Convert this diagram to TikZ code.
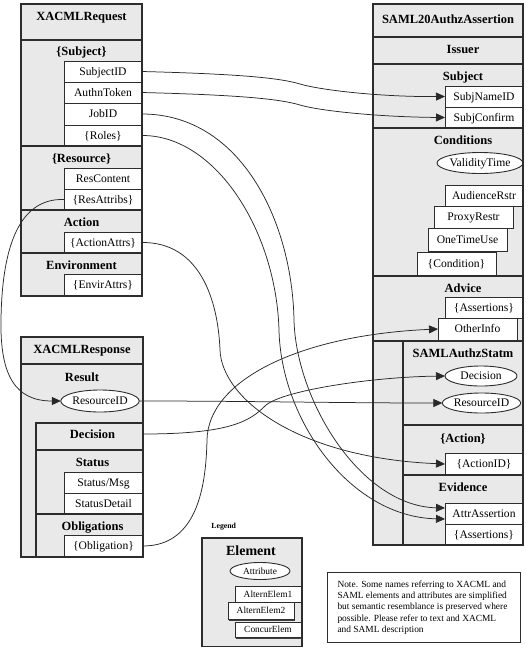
\documentclass[tikz,border=0pt]{standalone}
\usepackage{fontspec}
\setmainfont{Liberation Serif}
\usetikzlibrary{arrows.meta,shapes.geometric,shadows}
\definecolor{secgray}{RGB}{233,233,233}
\definecolor{edge}{RGB}{45,45,45}
\definecolor{wirec}{RGB}{40,40,40}
\begin{document}
\begin{tikzpicture}[x=1pt,y=-1pt,
  wh/.style 2 args={minimum width=#1pt, minimum height=#2pt},
  sec/.style={draw=edge, line width=1.1pt, fill=secgray, anchor=north west, inner sep=0pt, outer sep=0pt},
  item/.style={draw=edge, line width=0.8pt, fill=white, anchor=north west, inner sep=0pt, outer sep=0pt,
    font=\fontsize{11.6}{12}\selectfont, text height=7.7pt, text depth=0pt},
  sitem/.style={item, drop shadow={shadow xshift=1.2pt, shadow yshift=-1.2pt, fill=black!75, opacity=1}},
  litem/.style={item, font=\fontsize{9.4}{10}\selectfont, text height=6.2pt,
    drop shadow={shadow xshift=1pt, shadow yshift=-1pt, fill=black!75, opacity=1}},
  hd/.style={font=\bfseries\fontsize{12.5}{13}\selectfont, inner sep=0pt, text height=8.45pt, text depth=0pt},
  oval/.style={ellipse, draw=edge, line width=0.9pt, fill=white, inner sep=0pt, outer sep=0pt,
    font=\fontsize{11.6}{12}\selectfont, text height=7.7pt, text depth=0pt},
  frame/.style={draw=edge, line width=1.3pt},
  wire/.style={draw=wirec, line width=0.75pt},
  arr/.style={wire, -{Triangle[length=9pt,width=8pt]}},
]
\useasboundingbox (0,0) rectangle (526,659);

% ---------------- XACMLRequest ----------------
\node[sec, wh={121}{292}] (req) at (21,4) {};
\node[hd] (reqt) at (81.5,16) {XACMLRequest};
\node[sec, wh={121}{106}] (subjsec) at (21,40) {};
\node[hd] (subjh) at (81.5,51.7) {\{Subject\}};
\node[item, wh={78}{21}] (subjid) at (64,61) {SubjectID};
\node[item, wh={78}{21}] (authn) at (64,82) {AuthnToken};
\node[item, wh={78}{22}] (jobid) at (64,103) {JobID};
\node[item, wh={78}{21}] (roles) at (64,125) {\{Roles\}};
\node[sec, wh={121}{64}] (ressec) at (21,146) {};
\node[hd] (resh) at (81.5,158) {\{Resource\}};
\node[item, wh={78}{21}] (rescont) at (64,168) {ResContent};
\node[item, wh={78}{21}] (resattr) at (64,189) {\{ResAttribs\}};
\node[sec, wh={121}{43}] (actsec) at (21,210) {};
\node[hd] (acth) at (81.5,222) {Action};
\node[item, wh={78}{21}] (actattr) at (64,232) {\{ActionAttrs\}};
\node[sec, wh={121}{43}] (envsec) at (21,253) {};
\node[hd] (envh) at (81.5,265) {Environment};
\node[item, wh={78}{22}] (envattr) at (64,274) {\{EnvirAttrs\}};
\draw[frame] (req.north west) rectangle (req.south east);

% ---------------- XACMLResponse ----------------
\node[sec, wh={122}{220}] (resp) at (21,337) {};
\node[hd] (respt) at (82,349) {XACMLResponse};
\node[sec, wh={122}{193}] (ressec2) at (21,364) {};
\node[hd] (resulth) at (82,377.5) {Result};
\node[oval, wh={73}{22}] (rid) at (100,401) {ResourceID};
\node[sec, wh={107}{27}] (decsec) at (36,423) {};
\node[hd] (dech) at (92.5,434) {Decision};
\node[sec, wh={107}{64}] (statsec) at (36,450) {};
\node[hd] (stath) at (92.5,462.5) {Status};
\node[item, wh={79}{21}] (stmsg) at (64,472) {Status/Msg};
\node[item, wh={79}{21}] (stdet) at (64,493) {StatusDetail};
\node[sec, wh={107}{43}] (oblsec) at (36,514) {};
\node[hd] (oblh) at (92.5,526) {Obligations};
\node[item, wh={79}{22}] (oblig) at (64,535) {\{Obligation\}};
\draw[frame] (resp.north west) rectangle (resp.south east);

% ---------------- SAML20AuthzAssertion ----------------
\node[sec, wh={150}{541}] (saml) at (373,4) {};
\node[hd] (samlt) at (448,19) {SAML20AuthzAssertion};
\node[sec, wh={150}{27}] (issec) at (373,37) {};
\node[hd] (ish) at (463,49.5) {Issuer};
\node[sec, wh={150}{64}] (ssubjsec) at (373,64) {};
\node[hd] (ssubjh) at (463,76) {Subject};
\node[item, wh={78}{21}] (subjname) at (445,86) {SubjNameID};
\node[item, wh={78}{21}] (subjconf) at (445,107) {SubjConfirm};
\node[sec, wh={150}{148}] (condsec) at (373,128) {};
\node[hd] (condh) at (463,140) {Conditions};
\node[oval, wh={86}{21}] (valid) at (480,163) {ValidityTime};
\node[sitem, wh={78}{21}] (aud) at (445,185) {AudienceRstr};
\node[sitem, wh={79}{22}] (proxy) at (434,206) {ProxyRestr};
\node[sitem, wh={79}{23}] (onetime) at (428,228) {OneTimeUse};
\node[sitem, wh={79}{24}] (condition) at (417,252) {\{Condition\}};
\node[sec, wh={150}{65}] (advsec) at (373,276) {};
\node[hd] (advh) at (463,288.5) {Advice};
\node[item, wh={78}{21}] (sassert1) at (445,297) {\{Assertions\}};
\node[sitem, wh={79}{22}] (other) at (438,318) {OtherInfo};
\node[sec, wh={150}{204}] (stmsec) at (373,341) {};
\node[sec, wh={120}{84}] (stminsec) at (403,341) {};
\node[hd] (stmh) at (463,353.7) {SAMLAuthzStatm};
\node[oval, wh={72}{20}] (sdec) at (481,376) {Decision};
\node[oval, wh={73}{20}] (srid) at (481.5,403) {ResourceID};
\node[sec, wh={120}{50}] (sactsec) at (403,425) {};
\node[hd] (sacth) at (463,438.5) {\{Action\}};
\node[item, wh={78}{22}] (actid) at (445,453) {\{ActionID\}};
\node[sec, wh={120}{70}] (evsec) at (403,475) {};
\node[hd] (evh) at (463,487) {Evidence};
\node[item, wh={78}{21}] (attr) at (445,503) {AttrAssertion};
\node[item, wh={78}{21}] (sassert2) at (445,524) {\{Assertions\}};
\draw[frame] (saml.north west) rectangle (saml.south east);

% ---------------- Legend ----------------
\node[font=\bfseries\fontsize{7.8}{9}\selectfont, inner sep=0pt, text height=5.3pt, text depth=0pt] (leglbl) at (223.7,526) {Legend};
\node[sec, wh={100}{108.5}, line width=1.3pt] (legbox) at (202,538) {};
\node[font=\bfseries\fontsize{14}{15}\selectfont, inner sep=0pt, text height=9.46pt, text depth=0pt] (elem) at (251,550.5) {Element};
\node[oval, wh={60}{17}, font=\fontsize{9.4}{10}\selectfont, text height=6.2pt] (attrib) at (260,571) {Attribute};
\node[litem, wh={66}{16}] (alt1) at (235,586) {AlternElem1};
\node[litem, wh={66}{17.5}] (alt2) at (228,602) {AlternElem2};
\node[litem, wh={66}{15.5}] (concur) at (235,622) {ConcurElem};

% ---------------- Note ----------------
\node[draw=edge, line width=1pt, anchor=north west, inner sep=0pt, wh={193}{70}] (notebox) at (327,572) {};
\node[anchor=north west, inner sep=0pt, align=left, font=\fontsize{9.4}{11.3}\selectfont] (notetext) at (337.3,580.5)
 {Note. Some names referring to XACML and\\SAML elements and attributes are simplified\\but semantic resemblance is preserved where\\possible. Please refer to text and XACML\\and SAML description};

% ---------------- Connectors ----------------
\draw[arr] (subjid.east) .. controls (240,74) and (280,78) .. (300,84) .. controls (320,90) and (380,97) .. (subjname.west);
\draw[arr] (authn.east) .. controls (240,95) and (280,99) .. (300,105) .. controls (320,111) and (380,117) .. (subjconf.west);
\draw[arr] (jobid.east) .. controls (240,114) and (292,220) .. (294,320) .. controls (296,400) and (360,506) .. ([yshift=5.5pt]attr.west);
\draw[arr] (roles.east) .. controls (215,135) and (276,230) .. (279,330) .. controls (281,420) and (350,517) .. ([yshift=-5.5pt]attr.west);
\draw[arr] (actattr.east) .. controls (200,242) and (218,300) .. (220,350) .. controls (222,400) and (300,458) .. (actid.west);
\draw[arr] (resattr.west) .. controls (20,198) and (2,245) .. (1,320) .. controls (0,375) and (15,401) .. (rid.west);
\draw[arr] (rid.east) .. controls (250,401) and (340,403) .. (srid.west);
\draw[arr] ([yshift=2.5pt]decsec.east) .. controls (230,434) and (250,421) .. (265,406) .. controls (280,391) and (370,377) .. (sdec.west);
\draw[arr] (oblig.east) .. controls (200,546) and (206,480) .. (207,440) .. controls (208,380) and (300,335) .. (other.west);
\end{tikzpicture}
\end{document}
